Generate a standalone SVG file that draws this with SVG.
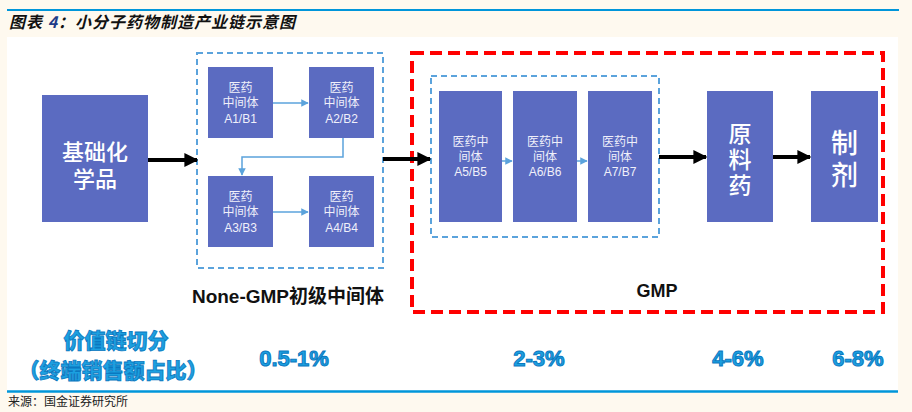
<svg xmlns="http://www.w3.org/2000/svg" width="912" height="412" viewBox="0 0 912 412">
<defs>
<style>
.box{fill:#5B6BC1;}
.sm{font-family:"Liberation Sans","Noto Sans CJK SC",sans-serif;font-size:12px;fill:#F0F0FA;text-anchor:middle;}
.big{font-family:"Liberation Sans","Noto Sans CJK SC",sans-serif;fill:#FFFFFF;text-anchor:middle;font-weight:500;}
.thin{stroke:#5BA3DC;stroke-width:1.5;fill:none;}
.thick{stroke:#000;stroke-width:4;fill:none;}
.pct{font-family:"Liberation Sans","Noto Sans CJK SC",sans-serif;font-weight:900;font-size:22px;fill:#1CA0E0;stroke:#0A78C0;stroke-width:1;text-anchor:middle;}
.val{font-family:"Liberation Sans","Noto Sans CJK SC",sans-serif;font-weight:900;font-size:21px;fill:#1CA0E0;stroke:#0A78C0;stroke-width:0.8;text-anchor:middle;}
</style>
<marker id="ah" viewBox="0 0 10 10" refX="9" refY="5" markerWidth="5" markerHeight="5" markerUnits="strokeWidth" orient="auto"><path d="M0,0 L10,5 L0,10 z" fill="#5BA3DC"/></marker>
<marker id="ahb" viewBox="0 0 10 10" refX="9" refY="5" markerWidth="3.5" markerHeight="3.5" markerUnits="strokeWidth" orient="auto"><path d="M0,0 L10,5 L0,10 z" fill="#000"/></marker>
</defs>
<rect x="0" y="0" width="912" height="412" fill="#FEF9EF"/>
<rect x="7" y="37" width="891" height="354" fill="#FFFFFF"/>
<line x1="7" y1="10" x2="899" y2="10" stroke="#0096DA" stroke-width="2"/>
<line x1="7" y1="391.5" x2="898" y2="391.5" stroke="#0096DA" stroke-width="2.5"/>
<text x="9" y="28" font-family="'Noto Sans CJK SC',sans-serif" font-size="16" font-weight="700" font-style="italic" letter-spacing="1" fill="#111">图表 <tspan fill="#1F3C88">4</tspan>：小分子药物制造产业链示意图</text>
<text x="8" y="406" font-family="'Noto Sans CJK SC',sans-serif" font-size="12" fill="#222">来源：国金证券研究所</text>

<g id="group-nongmp">
<rect x="197" y="53" width="186" height="215" fill="none" stroke="#5BA3DC" stroke-width="2" stroke-dasharray="6,4"/>
<text x="288" y="303" font-family="'Liberation Sans','Noto Sans CJK SC',sans-serif" font-size="19" font-weight="700" fill="#111" text-anchor="middle">None-GMP初级中间体</text>
</g>
<g id="group-gmp">
<rect x="412" y="53" width="471" height="259" fill="none" stroke="#FF0000" stroke-width="4" stroke-dasharray="12,6"/>
<rect x="431" y="76" width="228" height="161" fill="none" stroke="#5BA3DC" stroke-width="2" stroke-dasharray="6,4"/>
<text x="657" y="297" font-family="'Liberation Sans',sans-serif" font-size="18" font-weight="700" fill="#111" text-anchor="middle">GMP</text>
</g>

<g id="n-base">
<rect class="box" x="42" y="95" width="106" height="127"/>
<text class="big" font-size="22"><tspan x="95" y="160">基础化</tspan><tspan x="95" y="187">学品</tspan></text>
</g>
<g id="n-a1">
<rect class="box" x="208" y="67" width="65" height="71"/>
<text class="sm"><tspan x="240.5" y="92">医药</tspan><tspan x="240.5" y="107">中间体</tspan><tspan x="240.5" y="123">A1/B1</tspan></text>
</g>
<g id="n-a2">
<rect class="box" x="309" y="67" width="65" height="71"/>
<text class="sm"><tspan x="341.5" y="92">医药</tspan><tspan x="341.5" y="107">中间体</tspan><tspan x="341.5" y="123">A2/B2</tspan></text>
</g>
<g id="n-a3">
<rect class="box" x="208" y="176" width="65" height="71"/>
<text class="sm"><tspan x="240.5" y="201">医药</tspan><tspan x="240.5" y="216">中间体</tspan><tspan x="240.5" y="232">A3/B3</tspan></text>
</g>
<g id="n-a4">
<rect class="box" x="309" y="176" width="65" height="71"/>
<text class="sm"><tspan x="341.5" y="201">医药</tspan><tspan x="341.5" y="216">中间体</tspan><tspan x="341.5" y="232">A4/B4</tspan></text>
</g>
<g id="n-a5">
<rect class="box" x="439" y="91" width="63" height="131"/>
<text class="sm"><tspan x="470.5" y="146">医药中</tspan><tspan x="470.5" y="161">间体</tspan><tspan x="470.5" y="176">A5/B5</tspan></text>
</g>
<g id="n-a6">
<rect class="box" x="513" y="91" width="64" height="131"/>
<text class="sm"><tspan x="545" y="146">医药中</tspan><tspan x="545" y="161">间体</tspan><tspan x="545" y="176">A6/B6</tspan></text>
</g>
<g id="n-a7">
<rect class="box" x="588" y="91" width="64" height="131"/>
<text class="sm"><tspan x="620" y="146">医药中</tspan><tspan x="620" y="161">间体</tspan><tspan x="620" y="176">A7/B7</tspan></text>
</g>
<g id="n-api">
<rect class="box" x="707" y="91" width="66" height="131"/>
<text class="big" font-size="23" font-weight="700"><tspan x="740" y="142">原</tspan><tspan x="740" y="168">料</tspan><tspan x="740" y="194">药</tspan></text>
</g>
<g id="n-prep">
<rect class="box" x="811" y="91" width="67" height="131"/>
<text class="big" font-size="27" font-weight="700"><tspan x="844.5" y="153">制</tspan><tspan x="844.5" y="185">剂</tspan></text>
</g>

<g id="connectors">
<line class="thin" x1="273" y1="103" x2="308" y2="103" marker-end="url(#ah)"/>
<polyline class="thin" points="343,138 343,157 242,157 242,175" marker-end="url(#ah)"/>
<line class="thin" x1="273" y1="212" x2="308" y2="212" marker-end="url(#ah)"/>
<line class="thin" x1="502" y1="161" x2="512" y2="161" marker-end="url(#ah)"/>
<line class="thin" x1="577" y1="161" x2="587" y2="161" marker-end="url(#ah)"/>
<line class="thick" x1="148" y1="160" x2="197" y2="160" marker-end="url(#ahb)"/>
<line class="thick" x1="383" y1="159" x2="430" y2="159" marker-end="url(#ahb)"/>
<line class="thick" x1="659" y1="157" x2="706" y2="157" marker-end="url(#ahb)"/>
<line class="thick" x1="773" y1="157" x2="810" y2="157" marker-end="url(#ahb)"/>
</g>

<g id="values">
<text class="val"><tspan x="116" y="348">价值链切分</tspan><tspan x="113" y="378">（终端销售额占比）</tspan></text>
<text class="pct" x="294" y="366">0.5-1%</text>
<text class="pct" x="539" y="366">2-3%</text>
<text class="pct" x="738" y="366">4-6%</text>
<text class="pct" x="858" y="366">6-8%</text>
</g>
</svg>
